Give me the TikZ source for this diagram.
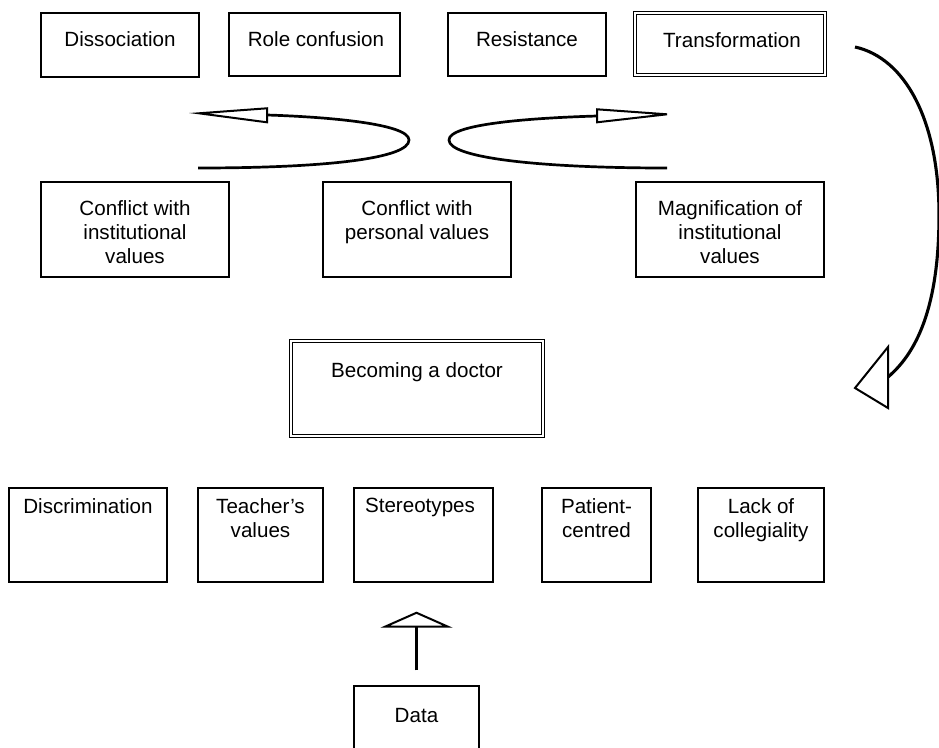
\documentclass[tikz,border=0pt]{standalone}
\usepackage{fontspec}
\setmainfont{Liberation Sans}
\usetikzlibrary{arrows.meta}
\begin{document}
\begin{tikzpicture}[x=1pt,y=-1pt,
  box/.style={draw, line width=1.3pt, inner sep=0pt},
  dbox/.style={draw, line width=1pt, double, double distance=2.4pt, inner sep=0pt},
  lbl/.style={anchor=north, inner sep=0pt, align=center, font=\fontsize{20.6}{24}\selectfont},
  curve/.style={line width=2.7pt},
  bigcurve/.style={line width=3.1pt},
  head/.style={line width=2pt, fill=white, line join=miter}]
\useasboundingbox (0,0) rectangle (939,747);

% top row
\node[box, minimum width=158pt, minimum height=64pt] (diss) at (120,45) {};
\node[lbl] (dissT) at (120,31.5) {Dissociation};
\node[box, minimum width=171pt, minimum height=63pt] (role) at (314.5,44.5) {};
\node[lbl] (roleT) at (316,31.5) {Role confusion};
\node[box, minimum width=158pt, minimum height=63pt] (resist) at (527,44.5) {};
\node[lbl] (resistT) at (527,31.5) {Resistance};
\node[dbox, minimum width=190pt, minimum height=62pt] (trans) at (730,44) {};
\node[lbl] (transT) at (732,32) {Transformation};

% middle row
\node[box, minimum width=188pt, minimum height=95pt] (c1) at (135,229.5) {};
\node[lbl] (c1T) at (135,200) {Conflict with\\institutional\\values};
\node[box, minimum width=188pt, minimum height=95pt] (c2) at (417,229.5) {};
\node[lbl] (c2T) at (417,200) {Conflict with\\personal values};
\node[box, minimum width=188pt, minimum height=95pt] (c3) at (730,229.5) {};
\node[lbl] (c3T) at (730,200) {Magnification of\\institutional\\values};

% centre
\node[dbox, minimum width=252pt, minimum height=95pt] (become) at (417,388.5) {};
\node[lbl] (becomeT) at (417,362) {Becoming a doctor};

% bottom row
\node[box, minimum width=158pt, minimum height=94pt] (disc) at (88,535) {};
\node[lbl] (discT) at (88,498) {Discrimination};
\node[box, minimum width=125pt, minimum height=94pt] (teach) at (260.5,535) {};
\node[lbl] (teachT) at (260.5,498) {Teacher’s\\values};
\node[box, minimum width=139pt, minimum height=94pt] (stereo) at (423.5,535) {};
\node[lbl] (stereoT) at (420,498) {Stereotypes};
\node[box, minimum width=109pt, minimum height=94pt] (patient) at (596.5,535) {};
\node[lbl] (patientT) at (596.5,498) {Patient-\\centred};
\node[box, minimum width=126pt, minimum height=94pt] (lack) at (761,535) {};
\node[lbl] (lackT) at (761,498) {Lack of\\collegiality};

% data
\node[box, minimum width=125pt, minimum height=74pt] (data) at (416.5,723) {};
\node[lbl] (dataT) at (416.5,708) {Data};

\draw[line width=2.2pt, shorten <=15pt, shorten >=29pt,
  -{Triangle[open, length=16pt, width=72pt, line width=2pt]}]
  (data.north) -- (data.north |- stereo.south);

% left curved arrow
\coordinate (la0) at (198,168);
\coordinate (la1) at (409,140);
\coordinate (la2) at (267,115);
\coordinate (laT) at (199,113.3);
\draw[curve] (la0) .. controls (330,168) and (409,158) .. (la1)
  .. controls (409,124) and (330,117) .. (la2);
\draw[head] (laT) -- (267,108.3) -- (267,122.3) -- cycle;

% right curved arrow
\coordinate (ra0) at (667,168);
\coordinate (ra1) at (449,140);
\coordinate (ra2) at (597,116);
\coordinate (raT) at (667,114.3);
\draw[curve] (ra0) .. controls (540,168) and (449,158) .. (ra1)
  .. controls (449,124) and (530,118) .. (ra2);
\draw[head] (raT) -- (597,109.3) -- (597,122.3) -- cycle;

% big arrow from Transformation
\coordinate (ba0) at (855,47);
\coordinate (ba1) at (939,215);
\coordinate (ba2) at (888,377);
\coordinate (baT) at (855,388);
\draw[bigcurve] (ba0) .. controls (905,58) and (939,120) .. (ba1)
  .. controls (939,300) and (920,350) .. (ba2);
\draw[head] (baT) -- (888,347) -- (888,408) -- cycle;
\end{tikzpicture}
\end{document}
